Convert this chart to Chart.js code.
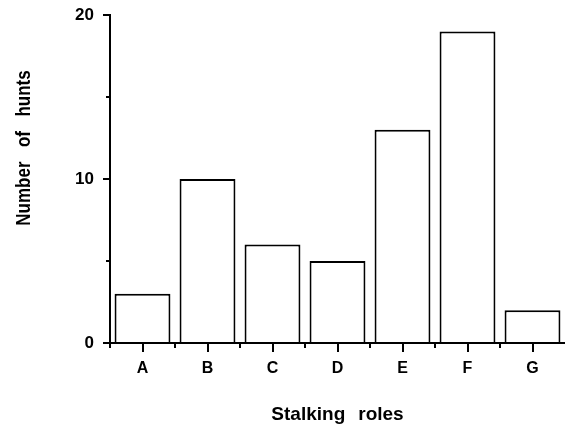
<!DOCTYPE html>
<html>
<head>
<meta charset="utf-8">
<script src="https://cdn.jsdelivr.net/npm/chart.js@4"></script>
<style>
  html, body { margin: 0; padding: 0; background: #fff; }
  #wrap { width: 565px; height: 429px; }
</style>
</head>
<body>
<div id="wrap"><canvas id="huntChart" width="565" height="429"></canvas></div>
<script>
// --- dados ---
const categories = ['A', 'B', 'C', 'D', 'E', 'F', 'G'];
const hunts = [3, 10, 6, 5, 13, 19, 2];
const yMajorTicks = [0, 10, 20];
const yMinorTicks = [5, 15];
const xTitle = 'Stalking roles';
const yTitle = 'Number of hunts';

const FONT = '"Liberation Sans", Arial, Helvetica, sans-serif';

// escreve um texto palavra por palavra, com espaco largo entre elas (como no original)
function drawSpacedText(ctx, text, gap) {
  const words = text.split(' ');
  const widths = words.map(w => ctx.measureText(w).width);
  const total = widths.reduce((a, b) => a + b, 0) + gap * (words.length - 1);
  let x = -total / 2;
  ctx.textAlign = 'left';
  words.forEach((w, i) => {
    ctx.fillText(w, x, 0);
    x += widths[i] + gap;
  });
}

// ticks curtos (menores) e titulos dos eixos
const extraTicks = {
  id: 'extraTicks',
  afterDraw(chart) {
    const ctx = chart.ctx;
    const x = chart.scales.x;
    const y = chart.scales.y;
    const area = chart.chartArea;
    ctx.save();
    ctx.strokeStyle = '#000';
    ctx.lineWidth = 2;
    ctx.beginPath();
    // ticks menores do eixo y (5, 15)
    yMinorTicks.forEach(v => {
      const py = y.getPixelForValue(v);
      ctx.moveTo(area.left, py);
      ctx.lineTo(area.left - 4, py);
    });
    // ticks nas divisas das categorias
    const n = categories.length;
    const step = n > 1 ? x.getPixelForTick(1) - x.getPixelForTick(0) : x.width;
    for (let i = 0; i < n; i++) {
      const px = x.getPixelForTick(i) - step / 2;
      ctx.moveTo(px, area.bottom);
      ctx.lineTo(px, area.bottom + 5);
    }
    ctx.stroke();
    ctx.restore();

    // titulo do eixo x
    ctx.save();
    ctx.fillStyle = '#000';
    ctx.textBaseline = 'middle';
    ctx.font = 'bold 19px ' + FONT;
    ctx.translate((area.left + area.right) / 2, 415);
    drawSpacedText(ctx, xTitle, 13);
    ctx.restore();

    // titulo do eixo y
    ctx.save();
    ctx.fillStyle = '#000';
    ctx.textBaseline = 'middle';
    ctx.font = 'bold 20px ' + FONT;
    ctx.translate(24, 148);
    ctx.rotate(-Math.PI / 2);
    ctx.scale(0.85, 1);
    drawSpacedText(ctx, yTitle, 17);
    ctx.restore();
  }
};

const ctx = document.getElementById('huntChart').getContext('2d');
const huntChart = new Chart(ctx, {
  type: 'bar',
  data: {
    labels: categories,
    datasets: [{
      data: hunts,
      backgroundColor: '#fff',
      borderColor: '#000',
      borderWidth: 2,
      barPercentage: 0.86,
      categoryPercentage: 1.0
    }]
  },
  options: {
    responsive: false,
    animation: false,
    devicePixelRatio: 1,
    layout: { padding: { top: 15, right: 0, left: 0, bottom: 0 } },
    plugins: {
      legend: { display: false },
      tooltip: { enabled: false }
    },
    scales: {
      x: {
        afterFit: (scale) => {
          scale.height = 86;
          scale.paddingLeft = 0;
          scale.paddingRight = 0;
        },
        grid: {
          display: true,
          drawOnChartArea: false,
          offset: false,
          tickLength: 9,
          color: '#000',
          lineWidth: 2
        },
        border: { display: true, color: '#000', width: 2 },
        ticks: {
          color: '#000',
          padding: 7,
          font: { family: FONT, size: 16, weight: 'bold' }
        },
        title: { display: false }
      },
      y: {
        min: 0,
        max: 20,
        afterFit: (scale) => {
          scale.width = 110;
          scale.paddingTop = 0;
          scale.paddingBottom = 0;
        },
        afterBuildTicks: (scale) => {
          scale.ticks = yMajorTicks.map(v => ({ value: v }));
        },
        grid: {
          display: true,
          drawOnChartArea: false,
          tickLength: 7,
          color: '#000',
          lineWidth: 2
        },
        border: { display: true, color: '#000', width: 2 },
        ticks: {
          color: '#000',
          padding: 9,
          font: { family: FONT, size: 17, weight: 'bold' }
        }
      }
    }
  },
  plugins: [extraTicks]
});
</script>
</body>
</html>
